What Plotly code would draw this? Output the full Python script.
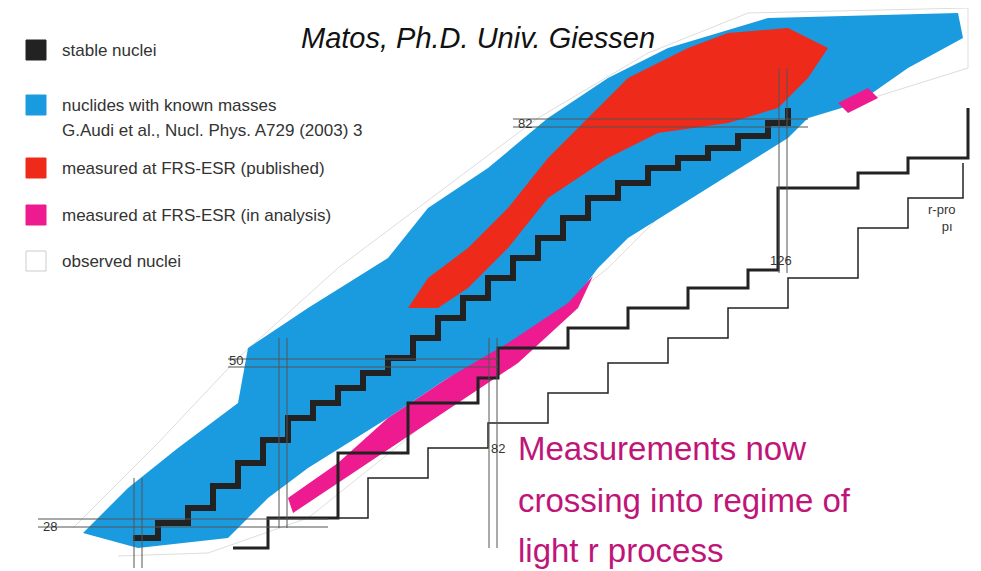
import plotly.graph_objects as go

# Region outlines (chart coordinates in image units)
blue_x = [75,120,170,230,240,300,380,420,480,540,600,660,760,950,955,900,850,800,780,700,620,590,560,500,440,380,300,260,220,130]
blue_y = [525,480,440,395,340,300,250,200,160,110,70,40,10,5,30,60,95,110,130,180,230,260,300,340,370,410,460,490,530,540]
obs_x = [65,150,230,330,430,530,640,740,960,960,800,700,600,500,400,300,200,110]
obs_y = [520,435,350,260,185,110,45,5,0,60,110,160,260,340,430,510,545,548]
red_x = [400,420,460,500,540,580,620,680,720,780,820,800,770,720,650,600,540,500,460,430]
red_y = [300,270,240,200,150,110,70,40,25,20,40,70,100,115,125,150,190,240,280,300]
mag_x = [280,330,380,440,500,560,585,570,510,450,390,330,285]
mag_y = [490,455,410,370,335,295,268,300,355,395,435,475,505]
mag2_x = [830,860,870,840]
mag2_y = [95,80,90,105]
stable_x = [125,150,180,205,230,255,280,305,330,355,380,405,430,455,480,505,530,555,580,610,640,670,700,730,760,780]
stable_y = [530,515,500,478,455,432,410,395,380,365,350,330,310,290,270,250,230,210,190,175,160,150,140,128,115,100]
rthick_x = [225,260,330,400,470,490,560,620,680,740,770,770,850,900,960]
rthick_y = [540,510,445,395,370,340,320,300,280,262,255,180,165,150,100]
rthin_x = [300,360,420,480,540,600,660,720,780,850,900,955]
rthin_y = [510,470,440,415,385,355,330,300,270,220,190,155]
magic_h_y = [515, 355, 115]
magic_h_x0 = [30, 220, 505]
magic_h_x1 = [320, 490, 800]
magic_v_x = [130, 275, 485, 775]
magic_v_y0 = [470, 330, 330, 60]
magic_v_y1 = [560, 520, 540, 265]
magic_labels = ["28", "50", "82", "82", "126"]
magic_lab_x = [42, 228, 517, 490, 773]
magic_lab_y = [518, 352, 115, 440, 252]
legend_labels = ["stable nuclei", "nuclides with known masses", "measured at FRS-ESR (published)",
                 "measured at FRS-ESR (in analysis)", "observed nuclei"]
legend_y = [42, 97, 160, 207, 253]
legend_colors = ["#222222", "#1a9be0", "#ee2a1a", "#ee1a8f", "white"]

fig = go.Figure()
def poly(x, y, fc, lc=None, w=0):
    fig.add_trace(go.Scatter(x=x, y=y, fill="toself", fillcolor=fc, mode="lines",
                             line=dict(color=lc or fc, width=w), hoverinfo="skip"))
poly(obs_x, obs_y, "rgba(255,255,255,0)", "#dddddd", 1)
poly(blue_x, blue_y, "#1a9be0")
poly(red_x, red_y, "#ee2a1a")
poly(mag_x, mag_y, "#ee1a8f")
poly(mag2_x, mag2_y, "#ee1a8f")
fig.add_trace(go.Scatter(x=stable_x, y=stable_y, mode="lines", line=dict(color="#222", width=6, shape="hv")))
fig.add_trace(go.Scatter(x=rthick_x, y=rthick_y, mode="lines", line=dict(color="#222", width=3, shape="hv")))
fig.add_trace(go.Scatter(x=rthin_x, y=rthin_y, mode="lines", line=dict(color="#222", width=1.5, shape="hv")))
for y, a, b in zip(magic_h_y, magic_h_x0, magic_h_x1):
    for d in (-4, 4):
        fig.add_shape(type="line", x0=a, x1=b, y0=y+d, y1=y+d, line=dict(color="#555", width=1))
for x, a, b in zip(magic_v_x, magic_v_y0, magic_v_y1):
    for d in (-4, 4):
        fig.add_shape(type="line", x0=x+d, x1=x+d, y0=a, y1=b, line=dict(color="#555", width=1))
for t, x, y in zip(magic_labels, magic_lab_x, magic_lab_y):
    fig.add_annotation(x=x, y=y, text=t, showarrow=False, font=dict(size=13, color="#333"))
for t, y, c in zip(legend_labels, legend_y, legend_colors):
    fig.add_shape(type="rect", x0=18, x1=38, y0=y-10, y1=y+10, fillcolor=c,
                  line=dict(color="#ccc" if c == "white" else c, width=1))
    fig.add_annotation(x=52, y=y, text=t, xanchor="left", showarrow=False, font=dict(size=17, color="#333"))
fig.add_annotation(x=52, y=122, text="G.Audi et al., Nucl. Phys. A729 (2003) 3", xanchor="left",
                   showarrow=False, font=dict(size=17, color="#333"))
fig.add_annotation(x=470, y=30, text="<i>Matos, Ph.D. Univ. Giessen</i>", showarrow=False,
                   font=dict(size=29, color="#111"))
for t, y in zip(["Measurements now", "crossing into regime of", "light r process"], [440, 492, 542]):
    fig.add_annotation(x=508, y=y, text=t, xanchor="left", showarrow=False, font=dict(size=33, color="#c01578"))
fig.add_annotation(x=918, y=210, text="r-pro<br>   pı", xanchor="left", showarrow=False, font=dict(size=13, color="#333"))
fig.add_shape(type="rect", x0=970, x1=981, y0=0, y1=571, fillcolor="#111", line=dict(width=0))
fig.update_xaxes(range=[0, 981], visible=False)
fig.update_yaxes(range=[571, 0], visible=False)
fig.update_layout(width=981, height=571, margin=dict(l=0, r=0, t=0, b=0), showlegend=False,
                  plot_bgcolor="white", paper_bgcolor="white", font=dict(family="Liberation Sans"))
fig.write_html("out.html")
